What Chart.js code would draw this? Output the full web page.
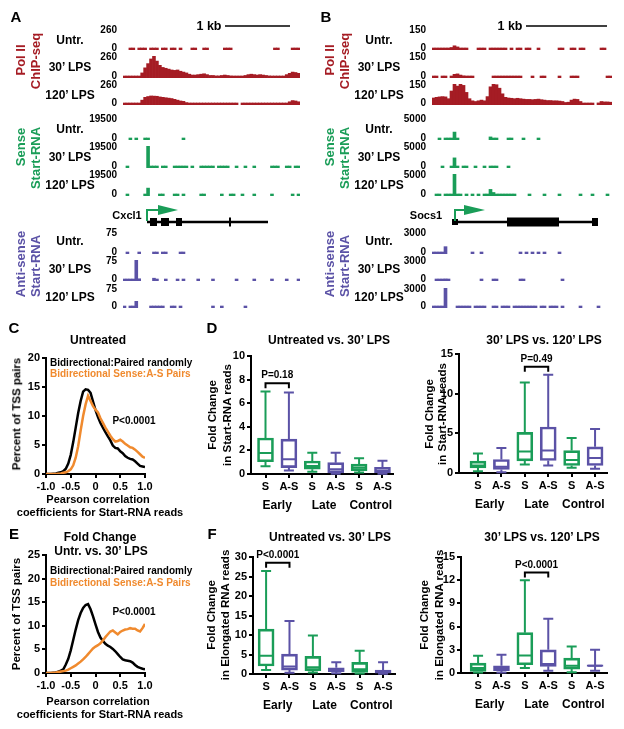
<!DOCTYPE html>
<html>
<head>
<meta charset="utf-8">
<script src="https://cdn.jsdelivr.net/npm/chart.js@4.4.0/dist/chart.umd.min.js"></script>
<style>
  body { margin: 0; background: #fff; }
  #fig { position: relative; width: 624px; height: 729px; overflow: hidden;
         font-family: "Liberation Sans", Arial, Helvetica, sans-serif; font-weight: bold; color: #000; }
  #fig canvas { position: absolute; }
  .t { position: absolute; white-space: nowrap; line-height: 1; transform: translate(-50%, -50%); }
  .t.l { transform: translate(0, -50%); }
  .t.v { transform: translate(-50%, -50%) rotate(-90deg); }
</style>
</head>
<body>
<div id="fig">
  <svg width="624" height="729" style="position:absolute;left:0;top:0">
    <!-- 1 kb scale bars -->
    <line x1="225" y1="26" x2="290" y2="26" stroke="#000" stroke-width="1.5"/>
    <line x1="526" y1="26" x2="607" y2="26" stroke="#000" stroke-width="1.5"/>
    <!-- Cxcl1 gene model -->
    <line x1="147" y1="222" x2="268" y2="222" stroke="#000" stroke-width="2.5"/>
    <rect x="150" y="218" width="7" height="8"/>
    <rect x="161" y="218" width="8" height="8"/>
    <rect x="176" y="218" width="6" height="8"/>
    <rect x="229" y="217.5" width="2" height="9"/>
    <polyline points="147,221 147,210 160,210" fill="none" stroke="#1a9d58" stroke-width="2"/>
    <polygon points="158,205 178,210 158,215" fill="#1a9d58"/>
    <!-- Socs1 gene model -->
    <line x1="455" y1="222" x2="598" y2="222" stroke="#000" stroke-width="2.5"/>
    <rect x="452" y="219" width="6" height="6"/>
    <rect x="507" y="217.5" width="52" height="9"/>
    <rect x="592" y="218" width="6" height="8"/>
    <polyline points="455,221 455,210 466,210" fill="none" stroke="#1a9d58" stroke-width="2"/>
    <polygon points="464,205 485,210 464,215" fill="#1a9d58"/>
  </svg>
</div>
<script>
const _ = null;

// ---- A: Cxcl1 tracks (60 bins across the locus) ----
const cxcl1PolUntr = [
  _, _, 0, 0, _, 0, 0, 0, _, 0,
  0, 0, _, 0, 0, _, 0, 0, _, 0,
  _, _, _, 0, 0, _, _, 0, 0, _,
  _, _, _, _, 0, 0, 0, _, _, _,
  _, _, _, _, _, _, _, _, _, _,
  _, 0, 0, _, _, _, _, 0, 0, 0];
const cxcl1Pol30 = [
  12, 15, 15, 10, 12, 20, 60, 120, 170, 225,
  260, 200, 150, 125, 115, 105, 95, 90, 95, 80,
  70, 60, 45, 35, 35, 40, 45, 50, 40, 30,
  30, 25, 25, 30, 35, 30, 25, 20, 15, 15,
  20, 30, 40, 45, 40, 35, 40, 35, 30, 25,
  20, 15, 15, 20, 15, 40, 55, 70, 65, 55];
const cxcl1Pol120 = [
  8, 8, 8, 8, 8, 8, 60, 95, 105, 112,
  110, 108, 100, 95, 90, 85, 80, 70, 60, 50,
  45, 30, 20, 10, 10, 10, 10, 10, 10, 10,
  10, 10, 10, 10, 10, 10, 10, 10, 10, _,
  10, 10, 10, 10, 10, 10, 10, 10, 10, 10,
  10, 10, 10, 10, 10, 20, 40, 55, 50, 40];
const cxcl1SenseUntr = [
  _, _, 0, _, 0, _, _, 0, 0, _,
  _, _, _, _, _, _, _, _, _, _,
  0, _, _, _, _, _, _, _, _, _,
  _, _, _, _, _, _, _, _, _, _,
  _, _, _, _, _, _, _, _, _, _,
  _, _, _, _, _, _, _, _, _, _];
const cxcl1Sense30 = [
  _, 0, _, _, _, _, _, _, 19500, 0,
  0, 0, _, 0, 0, _, _, 0, 0, 0,
  0, 0, _, 0, _, _, 0, 0, 0, 0,
  0, _, 0, 0, 0, 0, _, _, 0, _,
  _, 0, _, _, 0, _, _, _, _, _,
  0, 0, 0, _, _, 0, 0, _, 0, 0];
const cxcl1Sense120 = [
  _, 0, _, _, _, _, _, 0, 7000, _,
  _, _, 0, 0, _, _, _, 0, 0, _,
  0, _, _, _, _, _, 0, 0, _, _,
  _, _, _, 0, _, _, 0, 0, _, _,
  0, _, _, _, 0, _, _, _, _, _,
  0, _, _, _, _, _, _, 0, _, 0];
const cxcl1AntiUntr = [
  _, 0, _, _, _, 0, _, _, _, _,
  0, 0, _, 0, 0, _, _, _, _, 0,
  0, _, _, _, _, _, _, _, _, _,
  _, _, _, _, _, _, _, _, _, _,
  _, _, _, _, _, _, _, _, _, _,
  _, _, _, _, _, _, _, _, _, _];
const cxcl1Anti30 = [
  3, 5, 4, 6, 75, 8, _, _, _, _,
  10, 6, _, _, 0, _, _, _, 0, _,
  0, _, _, _, _, 0, _, _, _, _,
  0, _, _, _, _, _, _, _, 0, _,
  _, _, _, _, 0, _, _, _, _, _,
  0, _, _, _, _, 0, _, _, _, 0];
const cxcl1Anti120 = [
  0, _, 3, 5, 25, _, _, _, _, 0,
  3, 5, 0, 0, _, _, 0, 0, _, 0,
  _, _, _, _, _, _, _, _, _, _,
  0, _, _, 0, _, _, _, _, _, _,
  _, 0, _, _, _, _, _, _, _, _,
  _, _, _, _, _, _, _, _, _, _];

// ---- B: Socs1 tracks ----
const socs1PolUntr = [
  5, 5, 5, 5, 5, 10, 18, 30, 22, 10,
  8, 5, _, _, _, 3, 3, 3, _, 8,
  10, 8, 5, 3, 3, _, 3, _, 3, 3,
  _, 3, 3, _, _, 3, _, _, _, _,
  _, _, 3, 3, _, _, 3, 3, _, 3,
  3, _, _, _, _, _, 3, 3, _, _];
const socs1Pol30 = [
  3, 3, _, 3, 3, _, 12, 25, 28, 20,
  15, 10, 8, 5, _, _, _, _, _, _,
  8, 12, 12, 10, 8, 5, 3, 3, 3, 3,
  _, _, _, 3, _, _, 3, 3, _, _,
  _, _, 3, _, _, _, 3, 3, 3, _,
  _, _, _, _, _, _, _, _, 3, 3];
const socs1Pol120 = [
  50, 55, 58, 60, 58, 45, 100, 150, 135, 150,
  140, 90, 45, 30, 25, 30, 35, 30, 60, 130,
  150, 145, 120, 80, 55, 50, 48, 45, 48, 45,
  42, 40, 40, 38, 40, 42, 38, 35, 32, 32,
  30, 30, 28, 25, 18, 20, 35, 42, 40, 25,
  12, 10, 10, 8, _, 15, 25, 22, 22, 20];
const socs1SenseUntr = [
  _, _, 0, _, 0, 0, 0, 1800, 0, _,
  _, _, _, _, _, _, _, _, _, 700,
  0, 0, _, _, _, 0, 0, _, _, _,
  0, _, _, _, _, 0, _, _, _, _,
  _, _, _, _, _, _, _, _, _, _,
  _, _, _, _, _, _, _, _, _, _];
const socs1Sense30 = [
  _, _, _, 0, _, _, 0, 2300, 0, _,
  0, 0, _, _, 0, _, _, 0, _, 0,
  0, 0, _, _, _, 0, _, _, _, _,
  _, _, _, _, _, _, _, _, _, _,
  _, _, _, _, _, _, _, _, _, _,
  _, _, _, _, _, _, _, _, _, _];
const socs1Sense120 = [
  _, 0, 0, _, 0, 0, 0, 5000, 300, 0,
  _, 0, _, 0, _, 0, _, 0, 0, 1500,
  800, 0, 0, 0, 0, 0, 0, 0, _, _,
  _, _, 0, _, _, _, _, 0, _, _,
  _, _, 0, _, _, _, _, _, _, 0,
  _, _, _, 0, _, _, _, _, 0, _];
const socs1AntiUntr = [
  0, 0, 0, 0, 1000, _, _, _, _, _,
  _, _, _, 0, _, _, 0, _, _, _,
  _, _, _, _, _, _, _, _, _, 0,
  _, 0, _, 0, _, 0, _, 0, _, _,
  _, _, 0, _, _, _, _, _, _, _,
  _, _, _, _, _, _, _, _, _, _];
const socs1Anti30 = [
  _, 0, 0, 0, 300, 0, _, _, _, _,
  _, _, _, _, _, _, 0, _, _, _,
  0, 0, _, _, _, _, _, _, _, 0,
  0, _, _, _, _, _, _, _, _, _,
  _, _, _, 0, _, _, _, _, _, _,
  _, _, _, _, _, _, _, _, _, _];
const socs1Anti120 = [
  0, 0, 0, 0, 3000, _, _, _, 0, 0,
  0, 0, 0, _, 0, 0, 0, 0, _, _,
  0, 0, _, 0, 0, 0, _, 0, 0, 0,
  0, 0, 0, 0, 0, _, 0, 0, _, 0,
  0, 0, _, 0, _, _, _, _, _, 0,
  _, _, _, _, _, 0, _, _, _, _];

// ---- C / E: Pearson correlation distributions ----
const PEARSON_X = [-1, -0.95, -0.9, -0.85, -0.8, -0.75, -0.7, -0.65, -0.6, -0.55,
  -0.5, -0.45, -0.4, -0.35, -0.3, -0.25, -0.2, -0.15, -0.1, -0.05,
  0, 0.05, 0.1, 0.15, 0.2, 0.25, 0.3, 0.35, 0.4, 0.45,
  0.5, 0.55, 0.6, 0.65, 0.7, 0.75, 0.8, 0.85, 0.9, 0.95, 1];
const untrRandom = [0, 0, 0, 0.05, 0.1, 0.2, 0.3, 0.5, 0.9, 1.8,
  3.3, 5.5, 8.0, 10.5, 12.6, 14.2, 14.6, 14.5, 14.0, 12.5,
  11.0, 9.8, 8.8, 8.0, 7.2, 6.5, 5.8, 4.9, 4.5, 4.4,
  3.9, 3.6, 3.1, 2.8, 2.6, 2.5, 2.2, 1.8, 1.4, 1.3, 1.2];
const untrPairs = [0, 0, 0, 0, 0, 0.05, 0.1, 0.2, 0.3, 0.5,
  0.8, 1.5, 2.8, 4.8, 7.5, 10.0, 12.0, 13.5, 12.6, 11.7,
  11.1, 10.6, 9.6, 8.8, 8.0, 7.3, 6.6, 6.0, 5.6, 5.7,
  5.9, 5.6, 5.2, 4.9, 4.6, 4.5, 4.2, 3.8, 3.4, 3.0, 2.8];
const foldRandom = [0, 0, 0, 0.05, 0.1, 0.3, 0.5, 0.8, 1.8, 3.0,
  4.8, 7.0, 9.2, 11.2, 12.7, 13.8, 14.4, 14.6, 13.5, 12.0,
  10.3, 8.7, 7.5, 6.8, 6.2, 5.8, 5.5, 5.1, 4.6, 4.0,
  3.4, 2.9, 2.7, 2.6, 2.5, 2.2, 1.7, 1.3, 1.1, 0.9, 0.8];
const foldPairs = [0, 0, 0, 0.05, 0.1, 0.2, 0.3, 0.4, 0.5, 0.7,
  1.0, 1.3, 1.6, 2.0, 2.4, 2.9, 3.4, 4.0, 4.6, 5.2,
  5.6, 5.9, 6.3, 6.9, 7.6, 8.2, 8.8, 9.0, 8.6, 8.2,
  8.7, 9.0, 9.2, 9.3, 9.5, 9.4, 9.4, 9.0, 8.8, 9.5, 10.4];

// ---- D / F: box plots (S / A-S for Early, Late, Control) ----
const SIDES = ['S', 'A-S', 'S', 'A-S', 'S', 'A-S'];
const GROUPS = ['Early', 'Late', 'Control'];

const startU30Low  = [0.65, 0.3, 0.2, 0.03, 0.12, 0.02];
const startU30Q1   = [1.04, 0.54, 0.4, 0.1, 0.28, 0.12];
const startU30Med  = [1.78, 1.25, 0.68, 0.4, 0.55, 0.28];
const startU30Q3   = [3.05, 2.95, 1.1, 0.96, 0.85, 0.57];
const startU30High = [7.0, 6.9, 1.8, 1.8, 1.33, 1.13];

const start30120Low  = [0.23, 0.1, 1.07, 0.94, 0.65, 0.53];
const start30120Q1   = [0.65, 0.44, 1.52, 1.57, 0.94, 0.94];
const start30120Med  = [0.95, 0.78, 2.7, 2.85, 1.65, 1.9];
const start30120Q3   = [1.5, 1.7, 5.13, 5.8, 2.83, 3.3];
const start30120High = [2.45, 3.15, 11.4, 12.4, 4.42, 5.55];

const elongU30Low  = [1.0, 0.35, 0.4, 0.2, 0.1, 0.05];
const elongU30Q1   = [2.05, 1.0, 0.85, 0.6, 0.4, 0.2];
const elongU30Med  = [4.7, 1.9, 1.7, 1.2, 1.2, 0.6];
const elongU30Q3   = [11.5, 5.1, 4.5, 1.6, 3.0, 1.0];
const elongU30High = [26.4, 13.6, 9.9, 3.0, 5.97, 3.0];

const elong30120Low  = [0.05, 0.05, 0.64, 0.3, 0.1, 0.3];
const elong30120Q1   = [0.21, 0.3, 1.07, 0.86, 0.51, 0.85];
const elong30120Med  = [0.64, 0.64, 2.27, 1.15, 0.94, 0.95];
const elong30120Q3   = [1.28, 0.94, 5.22, 3.0, 1.93, 1.05];
const elong30120High = [2.22, 2.35, 12.0, 7.0, 3.43, 3.0];

const RED = '#a51c24', GREEN = '#1a9d58', PURPLE = '#5b52a6', ORANGE = '#f08a2e';
const FONT = '"Liberation Sans", Arial, Helvetica, sans-serif';

Chart.defaults.font.family = FONT;
Chart.defaults.font.weight = 'bold';
Chart.defaults.color = '#000';
Chart.defaults.animation = false;
Chart.defaults.plugins.legend.display = false;
Chart.defaults.plugins.tooltip.enabled = false;

const fig = document.getElementById('fig');

function addCanvas(x, y, w, h) {
  const c = document.createElement('canvas');
  c.width = w; c.height = h;
  c.style.left = x + 'px'; c.style.top = y + 'px';
  c.style.width = w + 'px'; c.style.height = h + 'px';
  fig.appendChild(c);
  return c;
}

function label(text, x, y, size, color, cls) {
  const d = document.createElement('div');
  d.className = 't' + (cls ? ' ' + cls : '');
  d.textContent = text;
  d.style.left = x + 'px';
  d.style.top = y + 'px';
  d.style.fontSize = size + 'px';
  if (color) d.style.color = color;
  fig.appendChild(d);
}

// one genome browser track
function track(left, right, top, base, values, max, color) {
  // tick labels need half a line + tick padding above and below the plot area
  const axisW = 40, pad = 13;
  const c = addCanvas(left - axisW, top - pad, right - left + axisW, base - top + pad * 2);
  new Chart(c, {
    type: 'bar',
    data: {
      labels: values.map((v, i) => i),
      datasets: [{ data: values, backgroundColor: color, borderWidth: 0,
        barPercentage: 1, categoryPercentage: 1, minBarLength: 2 }]
    },
    options: {
      responsive: false,
      layout: { padding: { top: pad, bottom: pad, left: 0, right: 0 } },
      scales: {
        x: { display: false },
        y: {
          min: 0, max: max,
          afterFit: s => { s.width = axisW; },
          // labels sit a touch inside the range, as in the original browser shots
          afterBuildTicks: s => { s.ticks = [{ value: max * 0.09 }, { value: max * 0.96 }]; },
          grid: { display: false, drawTicks: false },
          border: { display: false },
          ticks: { padding: 6, callback: (v, i) => i === 0 ? '0' : String(max),
            font: { size: 10, weight: 'bold' } }
        }
      }
    }
  });
}

const axisGrid = { drawOnChartArea: false, tickLength: 4, color: '#000', lineWidth: 2, offset: false };
const axisBorder = { width: 2, color: '#000' };

function lineChart(top, bottom, max, random, pairs) {
  const left = 46, right = 145, axisW = 24, padTop = 10, padR = 12, xh = 18;
  const c = addCanvas(left - axisW, top - padTop, right - left + axisW + padR, bottom - top + padTop + xh + 2);
  new Chart(c, {
    type: 'line',
    data: {
      datasets: [
        { data: PEARSON_X.map((x, i) => ({ x: x, y: pairs[i] })), borderColor: ORANGE,
          borderWidth: 2.5, pointRadius: 0, tension: 0 },
        { data: PEARSON_X.map((x, i) => ({ x: x, y: random[i] })), borderColor: '#000',
          borderWidth: 2.5, pointRadius: 0, tension: 0 }
      ]
    },
    options: {
      responsive: false,
      layout: { padding: { top: padTop, right: padR, bottom: 2, left: 0 } },
      scales: {
        x: {
          type: 'linear', min: -1, max: 1,
          afterFit: s => { s.height = xh; },
          ticks: { stepSize: 0.5, padding: 2, maxRotation: 0, font: { size: 11, weight: 'bold' },
            callback: v => Math.abs(v) < 1e-9 ? '0' : v.toFixed(1) },
          grid: axisGrid, border: axisBorder
        },
        y: {
          min: 0, max: max,
          afterFit: s => { s.width = axisW; },
          ticks: { stepSize: 5, padding: 2, font: { size: 11, weight: 'bold' } },
          grid: axisGrid, border: axisBorder
        }
      }
    }
  });
}

function boxChart(o) {
  const axisW = 26, padTop = 14, padR = 8, xh1 = 20, xh2 = 20;
  const c = addCanvas(o.chartLeft - axisW, Math.round(o.top - padTop),
    o.chartRight - o.chartLeft + axisW + padR, Math.round(o.bottom - o.top) + padTop + xh1 + xh2 + 2);
  const colors = SIDES.map((s, i) => i % 2 ? PURPLE : GREEN);
  const whiskers = {
    id: 'whiskers',
    afterDatasetsDraw(chart) {
      const { ctx } = chart;
      const x = chart.scales.x, y = chart.scales.y;
      ctx.save();
      ctx.lineWidth = 2;
      o.med.forEach((m, i) => {
        const cx = x.getPixelForValue(i);
        const hi = y.getPixelForValue(o.high[i]), lo = y.getPixelForValue(o.low[i]);
        ctx.strokeStyle = colors[i];
        ctx.beginPath();
        ctx.moveTo(cx, y.getPixelForValue(o.q3[i])); ctx.lineTo(cx, hi);
        ctx.moveTo(cx, y.getPixelForValue(o.q1[i])); ctx.lineTo(cx, lo);
        ctx.moveTo(cx - 5, hi); ctx.lineTo(cx + 5, hi);
        ctx.moveTo(cx - 5, lo); ctx.lineTo(cx + 5, lo);
        ctx.moveTo(cx - 7, y.getPixelForValue(m)); ctx.lineTo(cx + 7, y.getPixelForValue(m));
        ctx.stroke();
      });
      const b = o.bracket;
      const bx1 = x.getPixelForValue(b.from), bx2 = x.getPixelForValue(b.to), by = y.getPixelForValue(b.y);
      ctx.strokeStyle = '#000';
      ctx.beginPath();
      ctx.moveTo(bx1, by + 5); ctx.lineTo(bx1, by); ctx.lineTo(bx2, by); ctx.lineTo(bx2, by + 5);
      ctx.stroke();
      ctx.fillStyle = '#000';
      ctx.font = 'bold 10px ' + FONT;
      ctx.textAlign = 'center';
      ctx.textBaseline = 'middle';
      ctx.fillText(b.text, (bx1 + bx2) / 2, by - 7.5);
      ctx.restore();
    }
  };
  new Chart(c, {
    type: 'bar',
    data: {
      datasets: [{
        data: o.q1.map((q, i) => ({ x: i, y: [q, o.q3[i]] })),
        backgroundColor: 'rgba(0,0,0,0)', borderColor: colors,
        borderWidth: 2, borderSkipped: false, barThickness: 16
      }]
    },
    options: {
      responsive: false,
      layout: { padding: { top: padTop, right: padR, bottom: 2, left: 0 } },
      scales: {
        x: {
          type: 'linear', min: o.xMin, max: o.xMax, weight: 0, offset: false,
          afterBuildTicks: s => { s.ticks = SIDES.map((t, i) => ({ value: i })); },
          afterFit: s => { s.height = xh1; },
          ticks: { callback: v => SIDES[v], padding: 2, maxRotation: 0, autoSkip: false,
            font: { size: 11, weight: 'bold' } },
          grid: axisGrid, border: axisBorder
        },
        groups: {
          type: 'linear', position: 'bottom', min: o.xMin, max: o.xMax, weight: 1, offset: false,
          afterBuildTicks: s => { s.ticks = GROUPS.map((g, i) => ({ value: i * 2 + 0.5 })); },
          afterFit: s => { s.height = xh2; },
          ticks: { callback: v => GROUPS[Math.round((v - 0.5) / 2)], padding: 4, maxRotation: 0,
            autoSkip: false, font: { size: 12, weight: 'bold' } },
          grid: { display: false, drawTicks: false, offset: false }, border: { display: false }
        },
        y: {
          min: 0, max: o.max,
          afterFit: s => { s.width = axisW; },
          ticks: { stepSize: o.step, padding: 2, font: { size: 11, weight: 'bold' } },
          grid: axisGrid, border: axisBorder
        }
      }
    },
    plugins: [whiskers]
  });
}

// ---------- panels A and B ----------
const POL_ROWS = [[29, 50], [56, 78], [84, 105]];
const SENSE_ROWS = [[118, 140], [146, 168], [174, 196]];
const ANTI_ROWS = [[232, 254], [260, 281], [288, 308]];

[cxcl1PolUntr, cxcl1Pol30, cxcl1Pol120].forEach((v, i) => track(123, 300, POL_ROWS[i][0], POL_ROWS[i][1], v, 260, RED));
[cxcl1SenseUntr, cxcl1Sense30, cxcl1Sense120].forEach((v, i) => track(123, 300, SENSE_ROWS[i][0], SENSE_ROWS[i][1], v, 19500, GREEN));
[cxcl1AntiUntr, cxcl1Anti30, cxcl1Anti120].forEach((v, i) => track(123, 300, ANTI_ROWS[i][0], ANTI_ROWS[i][1], v, 75, PURPLE));
[socs1PolUntr, socs1Pol30, socs1Pol120].forEach((v, i) => track(432, 612, POL_ROWS[i][0], POL_ROWS[i][1], v, 150, RED));
[socs1SenseUntr, socs1Sense30, socs1Sense120].forEach((v, i) => track(432, 612, SENSE_ROWS[i][0], SENSE_ROWS[i][1], v, 5000, GREEN));
[socs1AntiUntr, socs1Anti30, socs1Anti120].forEach((v, i) => track(432, 612, ANTI_ROWS[i][0], ANTI_ROWS[i][1], v, 3000, PURPLE));

const ROW_NAMES = ['Untr.', '30\u2019 LPS', '120\u2019 LPS'];
[[0, 70], [309, 379]].forEach(([dx, cx]) => {
  ROW_NAMES.forEach((n, i) => {
    label(n, cx, [40, 67, 95][i], 12);
    label(n, cx, [129, 157, 185][i], 12);
    label(n, cx, [241, 269, 297][i], 12);
  });
  label('Pol II', 20 + dx, 60, 13, RED, 'v');
  label('ChIP-seq', 35 + dx, 61, 13, RED, 'v');
  label('Sense', 20 + dx, 147, 13, GREEN, 'v');
  label('Start-RNA', 35 + dx, 158, 13, GREEN, 'v');
  label('Anti-sense', 20 + dx, 264, 13, PURPLE, 'v');
  label('Start-RNA', 35 + dx, 266, 13, PURPLE, 'v');
});
label('A', 16, 16, 15);
label('B', 326, 16, 15);
label('1 kb', 209, 26, 12.5);
label('1 kb', 510, 26, 12.5);
label('Cxcl1', 127, 215, 11);
label('Socs1', 426, 215, 11);

// ---------- panels C and E ----------
lineChart(358, 474, 20, untrRandom, untrPairs);
lineChart(555, 673, 25, foldRandom, foldPairs);

label('C', 14, 327, 15);
label('Untreated', 98, 340, 12);
label('Bidirectional:Paired randomly', 50, 363, 10, '#000', 'l');
label('Bidirectional Sense:A-S Pairs', 50, 374, 10, ORANGE, 'l');
label('P<0.0001', 134, 421, 10);
label('Percent of TSS pairs', 17, 414, 11.5, '#000', 'v');
label('Pearson correlation', 98, 499, 11);
label('coefficients for Start-RNA reads', 100, 512, 11);

label('E', 14, 533, 15);
label('Fold Change', 100, 537, 12);
label('Untr. vs. 30\u2019 LPS', 101, 551, 12);
label('Bidirectional:Paired randomly', 50, 571, 10, '#000', 'l');
label('Bidirectional Sense:A-S Pairs', 50, 583, 10, ORANGE, 'l');
label('P<0.0001', 134, 612, 10);
label('Percent of TSS pairs', 17, 614, 11.5, '#000', 'v');
label('Pearson correlation', 98, 701, 11);
label('coefficients for Start-RNA reads', 100, 714, 11);

// ---------- panels D and F ----------
boxChart({ chartLeft: 251, chartRight: 393, top: 356, bottom: 474, max: 10, step: 2, xMin: -0.62, xMax: 5.45,
  low: startU30Low, q1: startU30Q1, med: startU30Med, q3: startU30Q3, high: startU30High,
  bracket: { from: 0, to: 1, y: 7.7, text: 'P=0.18' } });
boxChart({ chartLeft: 459, chartRight: 607, top: 354, bottom: 473, max: 15, step: 5, xMin: -0.81, xMax: 5.51,
  low: start30120Low, q1: start30120Q1, med: start30120Med, q3: start30120Q3, high: start30120High,
  bracket: { from: 2, to: 3, y: 13.4, text: 'P=0.49' } });
boxChart({ chartLeft: 253, chartRight: 395, top: 557, bottom: 674, max: 30, step: 5, xMin: -0.56, xMax: 5.51,
  low: elongU30Low, q1: elongU30Q1, med: elongU30Med, q3: elongU30Q3, high: elongU30High,
  bracket: { from: 0, to: 1, y: 28.5, text: 'P<0.0001' } });
boxChart({ chartLeft: 461, chartRight: 607, top: 557, bottom: 673, max: 15, step: 3, xMin: -0.73, xMax: 5.51,
  low: elong30120Low, q1: elong30120Q1, med: elong30120Med, q3: elong30120Q3, high: elong30120High,
  bracket: { from: 2, to: 3, y: 13.0, text: 'P<0.0001' } });

label('D', 212, 327, 15);
label('Untreated vs. 30\u2019 LPS', 329, 340, 12);
label('30\u2019 LPS vs. 120\u2019 LPS', 544, 340, 12);
label('Fold Change', 213, 415, 11.5, '#000', 'v');
label('in Start-RNA reads', 228, 415, 11.5, '#000', 'v');
label('Fold Change', 430, 414, 11.5, '#000', 'v');
label('in Start-RNA reads', 443, 414, 11.5, '#000', 'v');

label('F', 212, 533, 15);
label('Untreated vs. 30\u2019 LPS', 330, 537, 12);
label('30\u2019 LPS vs. 120\u2019 LPS', 542, 537, 12);
label('Fold Change', 212, 615, 11.5, '#000', 'v');
label('in Elongated RNA reads', 226, 615, 11.5, '#000', 'v');
label('Fold Change', 425, 615, 11.5, '#000', 'v');
label('in Elongated RNA reads', 440, 615, 11.5, '#000', 'v');
</script>
</body>
</html>
